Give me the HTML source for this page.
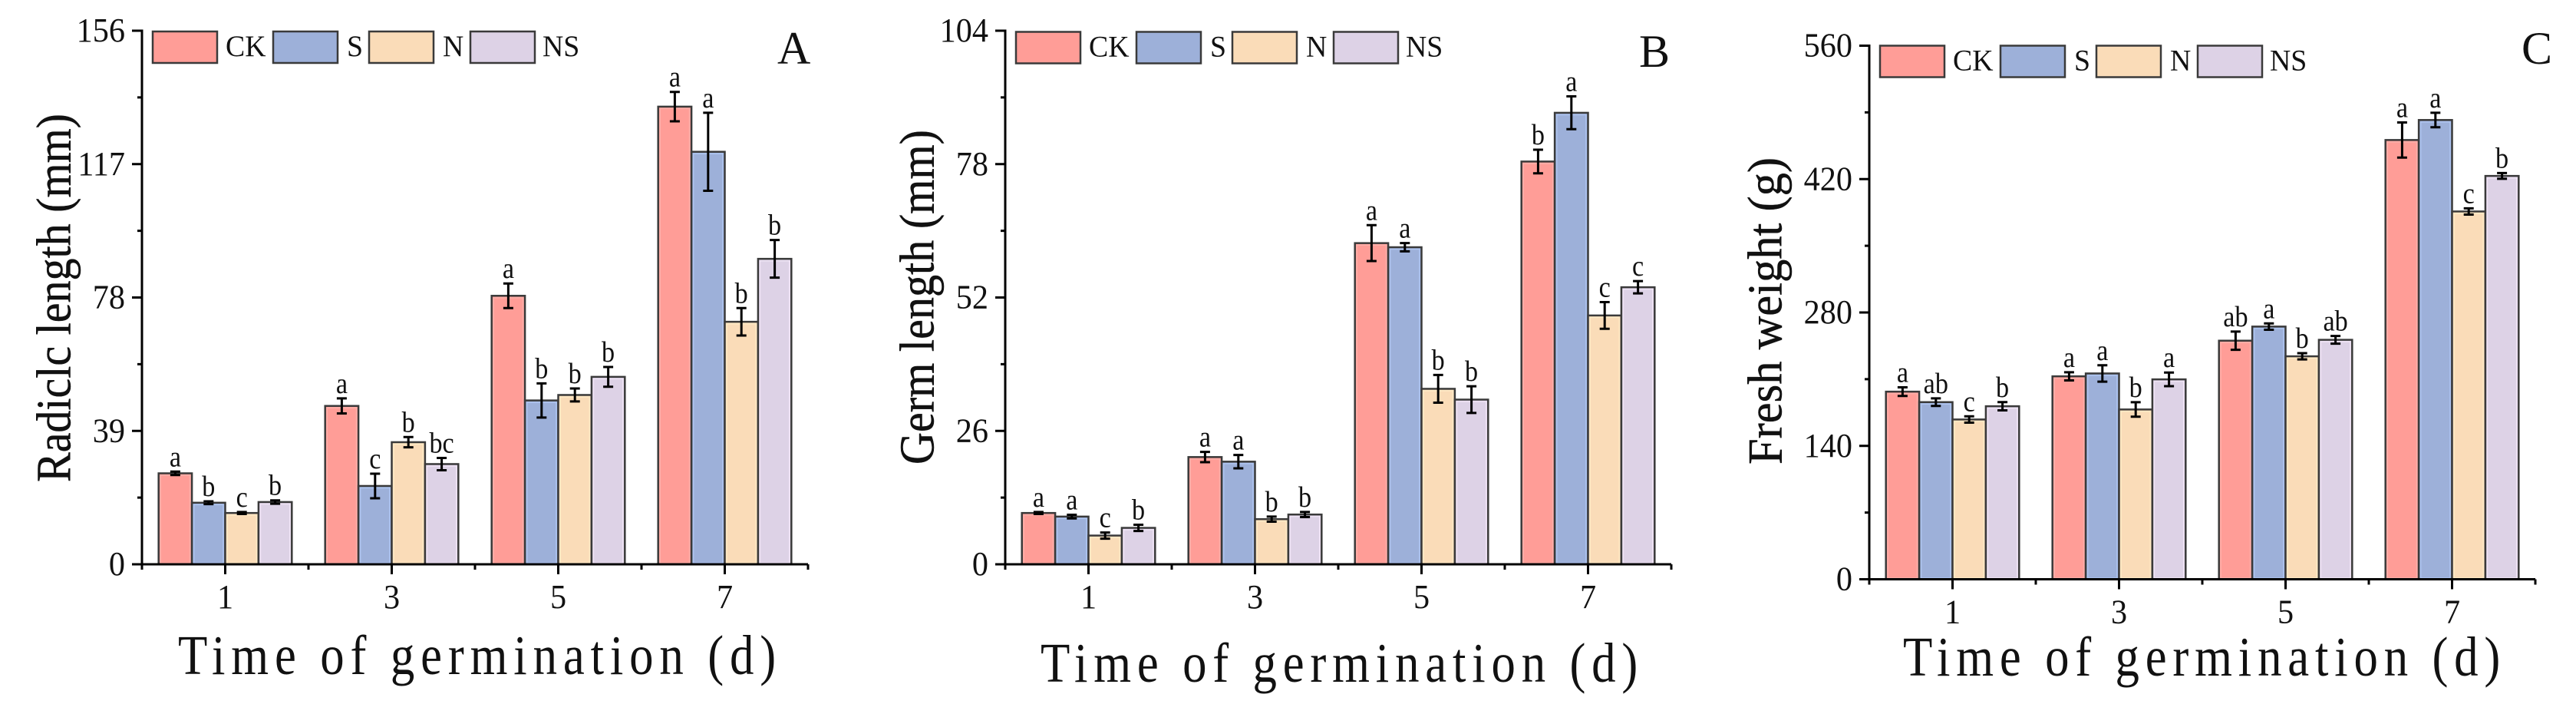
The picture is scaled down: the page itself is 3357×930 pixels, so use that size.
<!DOCTYPE html>
<html lang="en">
<head>
<meta charset="utf-8">
<title>Germination charts</title>
<style>
html,body{margin:0;padding:0;background:#fff;}
svg{display:block;}
text{font-family:"Liberation Serif",serif;fill:#111;}
</style>
</head>
<body>
<svg id="figure" xmlns="http://www.w3.org/2000/svg" width="3357" height="930" viewBox="0 0 3357 930">
  <rect x="0" y="0" width="3357" height="930" fill="#fff"/>
  <g id="panel-a">
    <text transform="translate(91.5 388) rotate(-90)" text-anchor="middle" font-size="64" stroke="#111" stroke-width="0.5" textLength="480" lengthAdjust="spacingAndGlyphs">Radiclc length (mm)</text>
    <text transform="translate(232 878) scale(0.86 1)" font-size="73" textLength="906" lengthAdjust="spacing">Time of germination (d)</text>
    <text x="1013" y="83" font-size="60">A</text>
  </g>
  <g id="panel-b">
    <text transform="translate(1216.5 387) rotate(-90)" text-anchor="middle" font-size="64" stroke="#111" stroke-width="0.5" textLength="436" lengthAdjust="spacingAndGlyphs">Germ length (mm)</text>
    <text transform="translate(1356 888) scale(0.86 1)" font-size="73" textLength="905" lengthAdjust="spacing">Time of germination (d)</text>
    <text x="2136" y="87" font-size="60">B</text>
  </g>
  <g id="panel-c">
    <text transform="translate(2321.5 405) rotate(-90)" text-anchor="middle" font-size="64" stroke="#111" stroke-width="0.5" textLength="400" lengthAdjust="spacingAndGlyphs">Fresh weight (g)</text>
    <text transform="translate(2480 880) scale(0.86 1)" font-size="73" textLength="905" lengthAdjust="spacing">Time of germination (d)</text>
    <text x="3286" y="83" font-size="60">C</text>
  </g>
</svg>
<script>
// ---- shared categories ----
const categories = ["1", "3", "5", "7"];
const seriesNames = ["CK", "S", "N", "NS"];

// ---- panel A: radicle length ----
const radicleTicks = [0, 39, 78, 117, 156];
const radicleCK = [26.6, 46.3, 78.5, 133.8];
const radicleS = [18, 22.9, 47.9, 120.6];
const radicleN = [15, 35.7, 49.5, 70.9];
const radicleNS = [18.2, 29.3, 54.8, 89.3];
const radicleErrCK = [0.5, 2.2, 3.6, 4.3];
const radicleErrS = [0.4, 3.6, 5, 11.4];
const radicleErrN = [0.3, 1.5, 1.9, 4];
const radicleErrNS = [0.5, 1.8, 2.9, 5.5];
const radicleSigCK = ["a", "a", "a", "a"];
const radicleSigS = ["b", "c", "b", "a"];
const radicleSigN = ["c", "b", "b", "b"];
const radicleSigNS = ["b", "bc", "b", "b"];

// ---- panel B: germ length ----
const germTicks = [0, 26, 52, 78, 104];
const germCK = [10, 20.9, 62.6, 78.5];
const germS = [9.3, 20, 61.8, 88];
const germN = [5.6, 8.8, 34.2, 48.5];
const germNS = [7.1, 9.7, 32.1, 54];
const germErrCK = [0.2, 1, 3.5, 2.3];
const germErrS = [0.35, 1.3, 0.8, 3.2];
const germErrN = [0.6, 0.5, 2.7, 2.6];
const germErrNS = [0.6, 0.5, 2.6, 1.2];
const germSigCK = ["a", "a", "a", "b"];
const germSigS = ["a", "a", "a", "a"];
const germSigN = ["c", "b", "b", "c"];
const germSigNS = ["b", "b", "b", "c"];

// ---- panel C: fresh weight ----
const weightTicks = [0, 140, 280, 420, 560];
const weightCK = [196.9, 213, 250.4, 461];
const weightS = [185.9, 216, 265.2, 482];
const weightN = [167.7, 178.2, 234, 386];
const weightNS = [181.6, 209.8, 251.3, 423.3];
const weightErrCK = [4.5, 4.3, 9.6, 18.4];
const weightErrS = [4, 8.6, 3.3, 7.6];
const weightErrN = [3.3, 7.6, 3.3, 3.3];
const weightErrNS = [4.3, 7.2, 4, 3];
const weightSigCK = ["a", "a", "ab", "a"];
const weightSigS = ["ab", "a", "a", "a"];
const weightSigN = ["c", "b", "b", "c"];
const weightSigNS = ["b", "a", "ab", "b"];

// ---- styling and layout ----
const fills = ["#FF9D97", "#9DB0D9", "#FADCB8", "#DDD2E6"];
const highlights = ["#FFB0AA", "#AFC6F2", "#FFEBC6", "#F0E4F6"];
const NS = "http://www.w3.org/2000/svg";
const plotW = 868, plotH = 695;
const swatchOffsets = [14, 171, 296, 428];
const legendTextOffsets = [109, 267, 392, 522];

function make(tag, parent, attrs, txt) {
  const el = document.createElementNS(NS, tag);
  for (const k in attrs) el.setAttribute(k, attrs[k]);
  if (txt !== undefined) el.textContent = txt;
  parent.appendChild(el);
  return el;
}

function drawPanel(id, suffix, ox, y0, legendTop, ticks, means, errs, sigs) {
  const g = document.getElementById(id);
  const yMax = ticks[ticks.length - 1];
  const yScale = v => y0 - (v / yMax) * plotH;
  const catW = plotW / categories.length;
  const xCenter = i => ox + catW * (i + 0.5);
  const barW = catW * 0.8 / seriesNames.length;

  // bars, error bars, significance letters
  categories.forEach((cat, c) => {
    seriesNames.forEach((name, s) => {
      const x = xCenter(c) - catW * 0.4 + s * barW;
      const top = yScale(means[s][c]);
      const bar = make("rect", g, {x: x, y: top, width: barW, height: y0 - top, fill: fills[s], stroke: "#3a3a3a", "stroke-width": 2.5});
      
      
      const inner = make("rect", g, {x: x + 2.5, y: top + 2.5, width: Math.max(barW - 5, 0), height: Math.max(y0 - top - 4, 0), fill: "none", stroke: highlights[s], "stroke-width": 1.5});
      
      
    });
  });
  categories.forEach((cat, c) => {
    seriesNames.forEach((name, s) => {
      const cx = xCenter(c) - catW * 0.4 + (s + 0.5) * barW;
      const hi = yScale(means[s][c] + errs[s][c]);
      const lo = yScale(means[s][c] - errs[s][c]);
      const eb = make("path", g, {d: "M" + (cx - 6.5) + " " + hi + "H" + (cx + 6.5) + "M" + cx + " " + hi + "V" + lo + "M" + (cx - 6.5) + " " + lo + "H" + (cx + 6.5), fill: "none", stroke: "#000", "stroke-width": 3});
      
      
      const lab = make("text", g, {transform: "translate(" + cx + " " + (hi - 7) + ") scale(0.9 1)", "text-anchor": "middle", "font-size": 38}, sigs[s][c]);
      
      
    });
  });

  // axes
  const yAxis = make("line", g, {x1: ox, x2: ox, y1: yScale(yMax) - 1.5, y2: y0, stroke: "#000", "stroke-width": 3});
  
  
  const xAxis = make("line", g, {x1: ox - 13, x2: ox + plotW, y1: y0, y2: y0, stroke: "#000", "stroke-width": 3});
  
  

  ticks.forEach((t, i) => {
    const y = yScale(t);
    const tk = make("line", g, {x1: ox - 13, x2: ox, y1: y, y2: y, stroke: "#000", "stroke-width": 3});
    
    
    const tl = make("text", g, {transform: "translate(" + (ox - 22) + " " + (y + 14) + ") scale(0.96 1)", "text-anchor": "end", "font-size": 44}, String(t));
    
    
    if (i < ticks.length - 1) {
      const my = yScale((t + ticks[i + 1]) / 2);
      const mt = make("line", g, {x1: ox - 6, x2: ox, y1: my, y2: my, stroke: "#000", "stroke-width": 3});
      
      
    }
  });

  categories.forEach((cat, c) => {
    const x = xCenter(c);
    const tk = make("line", g, {x1: x, x2: x, y1: y0, y2: y0 + 13, stroke: "#000", "stroke-width": 3});
    
    
    const tl = make("text", g, {transform: "translate(" + x + " " + (y0 + 57) + ") scale(0.96 1)", "text-anchor": "middle", "font-size": 44}, cat);
    
    
  });
  for (let i = 0; i <= categories.length; i++) {
    const x = ox + catW * i;
    const mt = make("line", g, {x1: x, x2: x, y1: y0, y2: y0 + 7, stroke: "#000", "stroke-width": 3});
    
    
  }

  // legend
  seriesNames.forEach((name, s) => {
    const sw = make("rect", g, {x: ox + swatchOffsets[s], y: legendTop, width: 84, height: 41, fill: fills[s], stroke: "#3a3a3a", "stroke-width": 2.5});
    
    
    const lt = make("text", g, {transform: "translate(" + (ox + legendTextOffsets[s]) + " " + (legendTop + 32) + ") scale(0.97 1)", "font-size": 39}, name);
    
    
  });
}

drawPanel("panel-a", "a", 185, 735, 41, radicleTicks,
  [radicleCK, radicleS, radicleN, radicleNS],
  [radicleErrCK, radicleErrS, radicleErrN, radicleErrNS],
  [radicleSigCK, radicleSigS, radicleSigN, radicleSigNS]);
drawPanel("panel-b", "b", 1310, 735, 41.5, germTicks,
  [germCK, germS, germN, germNS],
  [germErrCK, germErrS, germErrN, germErrNS],
  [germSigCK, germSigS, germSigN, germSigNS]);
drawPanel("panel-c", "c", 2436, 754.5, 59.5, weightTicks,
  [weightCK, weightS, weightN, weightNS],
  [weightErrCK, weightErrS, weightErrN, weightErrNS],
  [weightSigCK, weightSigS, weightSigN, weightSigNS]);
</script>
</body>
</html>
